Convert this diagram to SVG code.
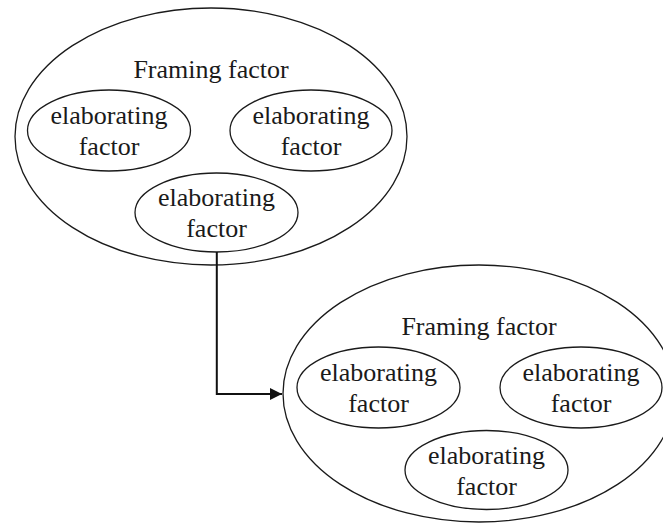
<svg xmlns="http://www.w3.org/2000/svg" width="663" height="523" viewBox="0 0 663 523">
  <style>
    .outer, .inner { fill: none; stroke: #1a1a1a; stroke-width: 1.3; }
    .lbl { font-family: "Liberation Serif", "Times New Roman", serif; font-size: 26px; fill: #1a1a1a; text-anchor: middle; }
    .link { fill: none; stroke: #111; stroke-width: 2; }
  </style>
  <defs>
    <marker id="arrow" viewBox="0 0 10 10" refX="10" refY="5" markerWidth="6" markerHeight="6" orient="auto" markerUnits="strokeWidth">
      <path d="M0,0 L10,5 L0,10 Z" fill="#111"/>
    </marker>
  </defs>

  <rect width="663" height="523" fill="#fff"/>

  <!-- first framing factor -->
  <g id="frame1" transform="translate(211,136.5)">
    <ellipse class="outer" cx="0" cy="0" rx="196" ry="128.5"/>
    <text class="lbl" x="0" y="-58.5">Framing factor</text>
    <g id="frame1-left">
      <ellipse class="inner" cx="-102" cy="-6" rx="81.5" ry="40.5"/>
      <text class="lbl" x="-102" y="-12.5">elaborating</text>
      <text class="lbl" x="-102" y="18.5">factor</text>
    </g>
    <g id="frame1-right">
      <ellipse class="inner" cx="100" cy="-6" rx="81" ry="40.5"/>
      <text class="lbl" x="100" y="-12.5">elaborating</text>
      <text class="lbl" x="100" y="18.5">factor</text>
    </g>
    <g id="frame1-bottom">
      <ellipse class="inner" cx="5.5" cy="76" rx="81.5" ry="39.5"/>
      <text class="lbl" x="5.5" y="69.5">elaborating</text>
      <text class="lbl" x="5.5" y="100.5">factor</text>
    </g>
  </g>

  <!-- second framing factor -->
  <g id="frame2" transform="translate(479,393.5)">
    <ellipse class="outer" cx="0" cy="0" rx="196" ry="128.5"/>
    <text class="lbl" x="0" y="-58.5">Framing factor</text>
    <g id="frame2-left">
      <ellipse class="inner" cx="-100.5" cy="-6" rx="81.5" ry="40.5"/>
      <text class="lbl" x="-100.5" y="-12.5">elaborating</text>
      <text class="lbl" x="-100.5" y="18.5">factor</text>
    </g>
    <g id="frame2-right">
      <ellipse class="inner" cx="102" cy="-6" rx="81" ry="40.5"/>
      <text class="lbl" x="102" y="-12.5">elaborating</text>
      <text class="lbl" x="102" y="18.5">factor</text>
    </g>
    <g id="frame2-bottom">
      <ellipse class="inner" cx="7.5" cy="76.5" rx="81.5" ry="39.5"/>
      <text class="lbl" x="7.5" y="70">elaborating</text>
      <text class="lbl" x="7.5" y="101">factor</text>
    </g>
  </g>

  <!-- connector -->
  <g id="connectors">
    <path class="link" d="M216.8,252 L216.8,394 L282,394" marker-end="url(#arrow)"/>
  </g>
</svg>
